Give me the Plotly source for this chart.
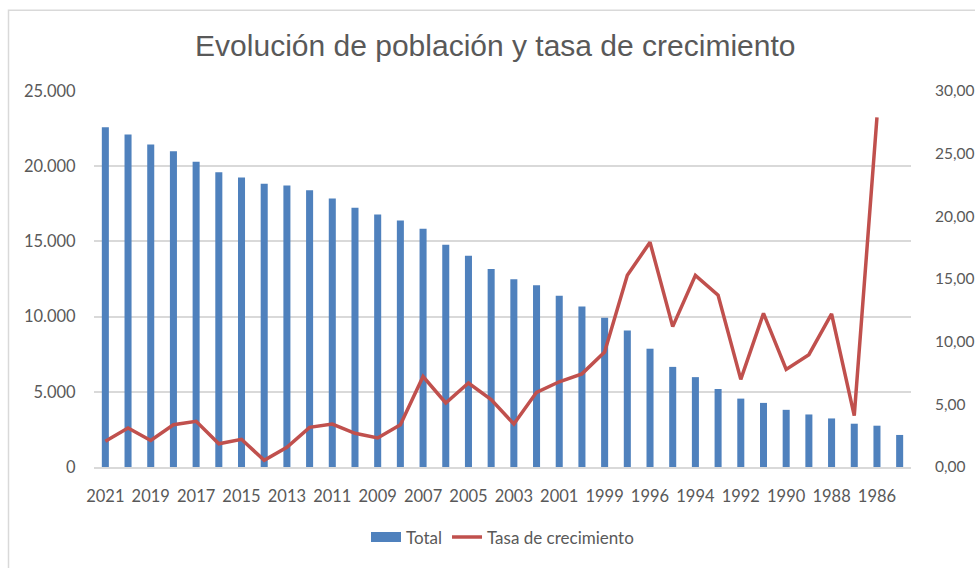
import plotly.graph_objects as go

# Years shown on the category axis (descending), no data for 1997
years = ["2021", "2020", "2019", "2018", "2017", "2016", "2015", "2014", "2013",
         "2012", "2011", "2010", "2009", "2008", "2007", "2006", "2005", "2004",
         "2003", "2002", "2001", "2000", "1999", "1998", "1996", "1995", "1994",
         "1993", "1992", "1991", "1990", "1989", "1988", "1987", "1986", "1985"]

# Total population per year
total = [22583, 22100, 21441, 21002, 20299, 19596, 19244, 18827, 18717, 18409,
         17860, 17245, 16784, 16388, 15839, 14785, 14038, 13159, 12478, 12083,
         11380, 10677, 9930, 9073, 7865, 6656, 5975, 5185, 4547, 4262,
         3801, 3493, 3229, 2878, 2746, 2131]

# Growth rate (%), not available for the first year of the series
tasa = [2.06, 3.11, 2.11, 3.37, 3.64, 1.85, 2.21, 0.53, 1.58, 3.16,
        3.43, 2.69, 2.32, 3.37, 7.22, 5.11, 6.70, 5.38, 3.43, 5.96,
        6.80, 7.43, 9.17, 15.29, 17.93, 11.20, 15.29, 13.71, 6.99, 12.26,
        7.78, 8.96, 12.21, 4.09, 27.89, None]

# Every other year gets a tick label
tick_years = years[::2]

BLUE = "#4F81BD"
RED = "#C0504D"
GREY_TXT = "#595959"
GRID = "#D9D9D9"

fig = go.Figure()
fig.add_trace(go.Bar(x=years, y=total, name="Total", marker_color=BLUE,
                     marker_line_width=0, showlegend=False))
fig.add_trace(go.Scatter(x=years, y=tasa, name="Tasa de crecimiento",
                         mode="lines", line=dict(color=RED, width=3.5),
                         yaxis="y2", connectgaps=False, showlegend=False))

# Legend entries: a wide block for the bars, a thick line for the rate
fig.add_trace(go.Scatter(x=[None], y=[None], name="Total", mode="lines",
                         line=dict(color=BLUE, width=11)))
fig.add_trace(go.Scatter(x=[None], y=[None], name="Tasa de crecimiento",
                         mode="lines", line=dict(color=RED, width=3.5),
                         yaxis="y2"))

W, H = 975, 568
L, R, T, B = 94, 64, 91, 98
pw, ph = W - L - R, H - T - B


def px_x(v):
    return (v - L) / pw


def px_y(v):
    return (H - B - v) / ph


fig.update_layout(
    width=W, height=H,
    margin=dict(l=L, r=R, t=T, b=B),
    paper_bgcolor="white", plot_bgcolor="white",
    separators=",.",
    bargap=0.69,
    font=dict(family="Lato, Liberation Sans, sans-serif", size=16.5, color=GREY_TXT),
    title=dict(text="Evolución de población y tasa de crecimiento",
               x=0.508, xanchor="center", y=1 - 45 / H, yanchor="middle",
               font=dict(family="Liberation Sans, Arial, sans-serif", size=30,
                         color=GREY_TXT)),
    xaxis=dict(type="category", tickmode="array", tickvals=tick_years,
               ticktext=tick_years, range=[-0.5, len(years) - 0.5],
               automargin=False,
               showgrid=False, showline=True, linecolor=GRID, linewidth=1.5,
               ticks="outside", ticklen=13, tickcolor="rgba(0,0,0,0)",
               tickfont=dict(size=16.5, color=GREY_TXT)),
    yaxis=dict(range=[0, 25000], dtick=5000, tickformat=",d", automargin=False,
               showgrid=True, gridcolor=GRID, gridwidth=1.5, zeroline=False,
               ticks="outside", ticklen=14, tickcolor="rgba(0,0,0,0)",
               tickfont=dict(size=16.5, color=GREY_TXT)),
    yaxis2=dict(range=[0, 30], dtick=5, tickformat=".2f", overlaying="y",
                side="right", showgrid=False, zeroline=False, automargin=False,
                ticks="outside", ticklen=20, tickcolor="rgba(0,0,0,0)",
                tickfont=dict(size=15.5, color=GREY_TXT)),
    legend=dict(orientation="h", x=0.5, xanchor="center",
                y=px_y(541), yanchor="middle",
                font=dict(size=17, color=GREY_TXT),
                traceorder="normal"),
    showlegend=True,
)

# Chart frame
fig.add_shape(type="rect", xref="paper", yref="paper",
              x0=px_x(8.5), x1=px_x(990), y0=px_y(9.5), y1=px_y(600),
              line=dict(color="#D9D9D9", width=1.5), fillcolor="rgba(0,0,0,0)",
              layer="below")

fig.write_html("out.html")
